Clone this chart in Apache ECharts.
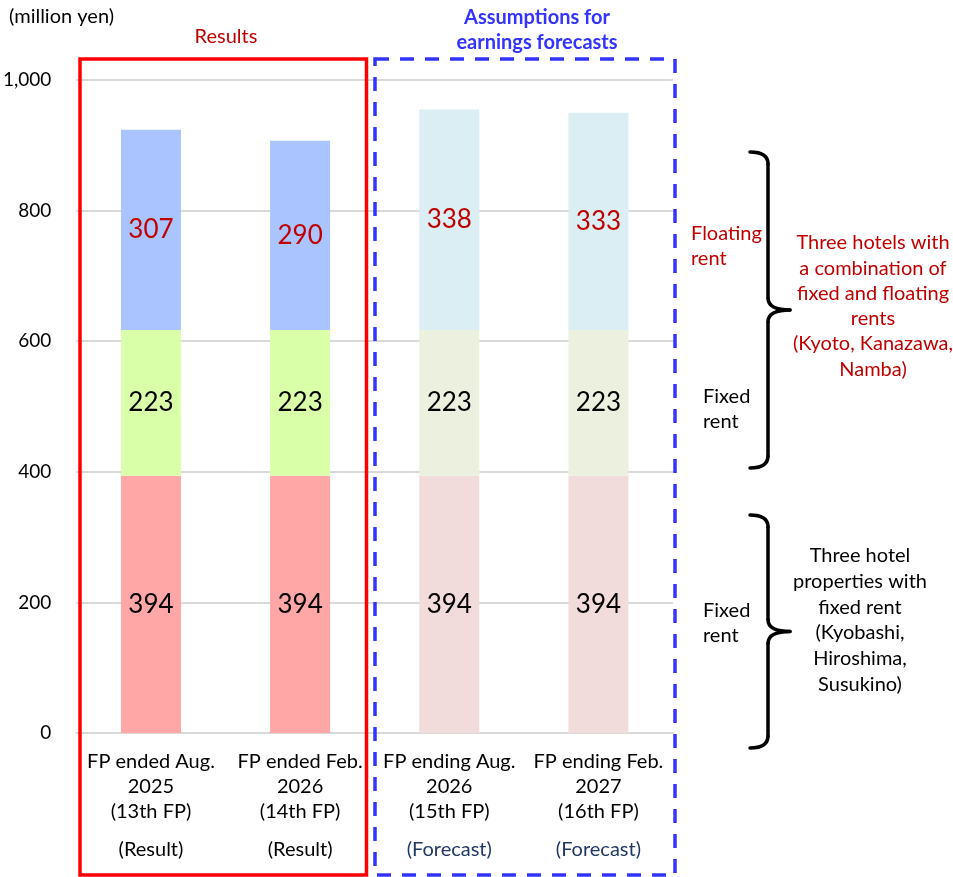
<!DOCTYPE html>
<html>
<head>
<meta charset="utf-8">
<script src="https://cdn.jsdelivr.net/npm/echarts@6/dist/echarts.min.js"></script>
<style>
  html, body { margin: 0; padding: 0; background: #fff; }
  #chart { width: 953px; height: 877px; }
</style>
</head>
<body>
<div id="chart"></div>
<script>
// Fiscal periods on the x axis (each label split into lines)
const periods = [
  ['FP ended Aug.', '2025', '(13th FP)'],
  ['FP ended Feb.', '2026', '(14th FP)'],
  ['FP ending Aug.', '2026', '(15th FP)'],
  ['FP ending Feb.', '2027', '(16th FP)']
];
const periodStatus = ['(Result)', '(Result)', '(Forecast)', '(Forecast)'];
const isForecast = [false, false, true, true];

// Rent revenue, million yen
const fixedRentOnly = [394, 394, 394, 394];     // three hotels with fixed rent
const fixedRentCombo = [223, 223, 223, 223];    // fixed part of the combined-rent hotels
const floatingRent = [307, 290, 338, 333];      // floating part of the combined-rent hotels

const yTicks = [0, 200, 400, 600, 800, 1000];

const FONT = 'Lato, "Open Sans", sans-serif';
const FS = 20;

const palette = {
  fixedOnly: ['#FFA6A6', '#F2DCDB'],
  combo: ['#DAFFA9', '#EBF1DE'],
  floating: ['#A9C4FF', '#DAEEF3']
};

function seriesData(values, colors) {
  return values.map((v, i) => ({
    value: v,
    itemStyle: { color: colors[isForecast[i] ? 1 : 0] }
  }));
}

function barSeries(name, values, colors, labelColor) {
  return {
    name: name,
    type: 'bar',
    stack: 'rent',
    barWidth: 60,
    data: seriesData(values, colors),
    label: {
      show: true,
      position: 'inside',
      fontFamily: FONT,
      fontSize: 26,
      color: labelColor
    }
  };
}

// Curly brace pointing right, made of curve and line pieces:
// open ends at x0, spine at xs, tip at xt
function brace(x0, xs, xt, top, bottom) {
  const mid = (top + bottom) / 2;
  const r = 12;
  const st = { fill: 'none', stroke: '#000', lineWidth: 3.5, lineCap: 'round' };
  const curve = (x1, y1, cx, cy, x2, y2) => ({
    type: 'bezierCurve', z: 10,
    shape: { x1: x1, y1: y1, cpx1: cx, cpy1: cy, x2: x2, y2: y2 }, style: st
  });
  const seg = (x1, y1, x2, y2) => ({
    type: 'line', z: 10, shape: { x1: x1, y1: y1, x2: x2, y2: y2 }, style: st
  });
  return [
    curve(x0, top, xs, top, xs, top + r),
    seg(xs, top + r, xs, mid - r),
    curve(xs, mid - r, xs, mid, xt, mid),
    curve(xt, mid, xs, mid, xs, mid + r),
    seg(xs, mid + r, xs, bottom - r),
    curve(xs, bottom - r, xs, bottom, x0, bottom)
  ];
}

const chart = echarts.init(document.getElementById('chart'), null, { renderer: 'canvas' });

chart.setOption({
  animation: false,
  backgroundColor: '#fff',
  grid: { left: 75, right: 280, top: 80, bottom: 144 },
  xAxis: {
    type: 'category',
    data: periods.map(p => p.join('\n')),
    axisLine: { show: true, lineStyle: { color: '#D9D9D9', width: 2 } },
    axisTick: { show: false },
    axisLabel: {
      interval: 0,
      margin: 16,
      formatter: function (value, idx) {
        const lines = value.split('\n').map(l => '{p|' + l + '}');
        const st = isForecast[idx] ? '{f|' + periodStatus[idx] + '}' : '{r|' + periodStatus[idx] + '}';
        return lines.join('\n') + '\n' + st;
      },
      rich: {
        p: { fontFamily: FONT, fontSize: FS, color: '#000', lineHeight: 25 },
        r: { fontFamily: FONT, fontSize: FS, color: '#000', lineHeight: 51 },
        f: { fontFamily: FONT, fontSize: FS, color: '#203864', lineHeight: 51 }
      }
    }
  },
  yAxis: {
    type: 'value',
    min: yTicks[0],
    max: yTicks[yTicks.length - 1],
    interval: yTicks[1] - yTicks[0],
    axisLine: { show: false },
    axisTick: { show: false },
    splitLine: { lineStyle: { color: '#D9D9D9', width: 2 } },
    axisLabel: {
      margin: 25,
      fontFamily: FONT,
      fontSize: 19,
      color: '#000',
      formatter: v => v.toLocaleString('en-US')
    }
  },
  series: [
    barSeries('Fixed rent (fixed-rent hotels)', fixedRentOnly, palette.fixedOnly, '#000'),
    barSeries('Fixed rent (combined-rent hotels)', fixedRentCombo, palette.combo, '#000'),
    barSeries('Floating rent', floatingRent, palette.floating, '#C00000')
  ],
  graphic: [
    { type: 'text', x: 9, y: 17,
      style: { text: '(million yen)', fontFamily: FONT, fontSize: FS, fill: '#000',
               align: 'left', verticalAlign: 'middle' } },
    { type: 'text', x: 226, y: 37,
      style: { text: 'Results', fontFamily: FONT, fontSize: FS, fill: '#C00000',
               align: 'center', verticalAlign: 'middle' } },
    { type: 'text', x: 537, y: 30,
      style: { text: 'Assumptions for\nearnings forecasts', fontFamily: FONT, fontSize: FS,
               fontWeight: 'bold', fill: '#3333FF', lineHeight: 25,
               align: 'center', verticalAlign: 'middle' } },
    // Results frame
    { type: 'rect', z: 10,
      shape: { x: 80, y: 59, width: 286.5, height: 816 },
      style: { fill: 'none', stroke: '#FF0000', lineWidth: 3.5 } },
    // Forecast frame
    { type: 'rect', z: 10,
      shape: { x: 375, y: 59, width: 300, height: 816 },
      style: { fill: 'none', stroke: '#3333FF', lineWidth: 3.5, lineDash: [14, 11] } },
    // Braces
    ...brace(750, 768, 790, 152, 468),
    ...brace(750, 768, 790, 515, 748),
    // Brace captions
    { type: 'text', x: 691, y: 246,
      style: { text: 'Floating\nrent', fontFamily: FONT, fontSize: FS, fill: '#C00000',
               lineHeight: 25.5, align: 'left', verticalAlign: 'middle' } },
    { type: 'text', x: 703, y: 409,
      style: { text: 'Fixed\nrent', fontFamily: FONT, fontSize: FS, fill: '#000',
               lineHeight: 25.5, align: 'left', verticalAlign: 'middle' } },
    { type: 'text', x: 703, y: 623,
      style: { text: 'Fixed\nrent', fontFamily: FONT, fontSize: FS, fill: '#000',
               lineHeight: 25.5, align: 'left', verticalAlign: 'middle' } },
    { type: 'text', x: 873, y: 306,
      style: { text: 'Three hotels with\na combination of\nfixed and floating\nrents\n(Kyoto, Kanazawa,\nNamba)',
               fontFamily: FONT, fontSize: FS, fill: '#C00000', lineHeight: 25.3,
               align: 'center', verticalAlign: 'middle' } },
    { type: 'text', x: 860, y: 620,
      style: { text: 'Three hotel\nproperties with\nfixed rent\n(Kyobashi,\nHiroshima,\nSusukino)',
               fontFamily: FONT, fontSize: FS, fill: '#000', lineHeight: 25.7,
               align: 'center', verticalAlign: 'middle' } }
  ]
});
</script>
</body>
</html>
